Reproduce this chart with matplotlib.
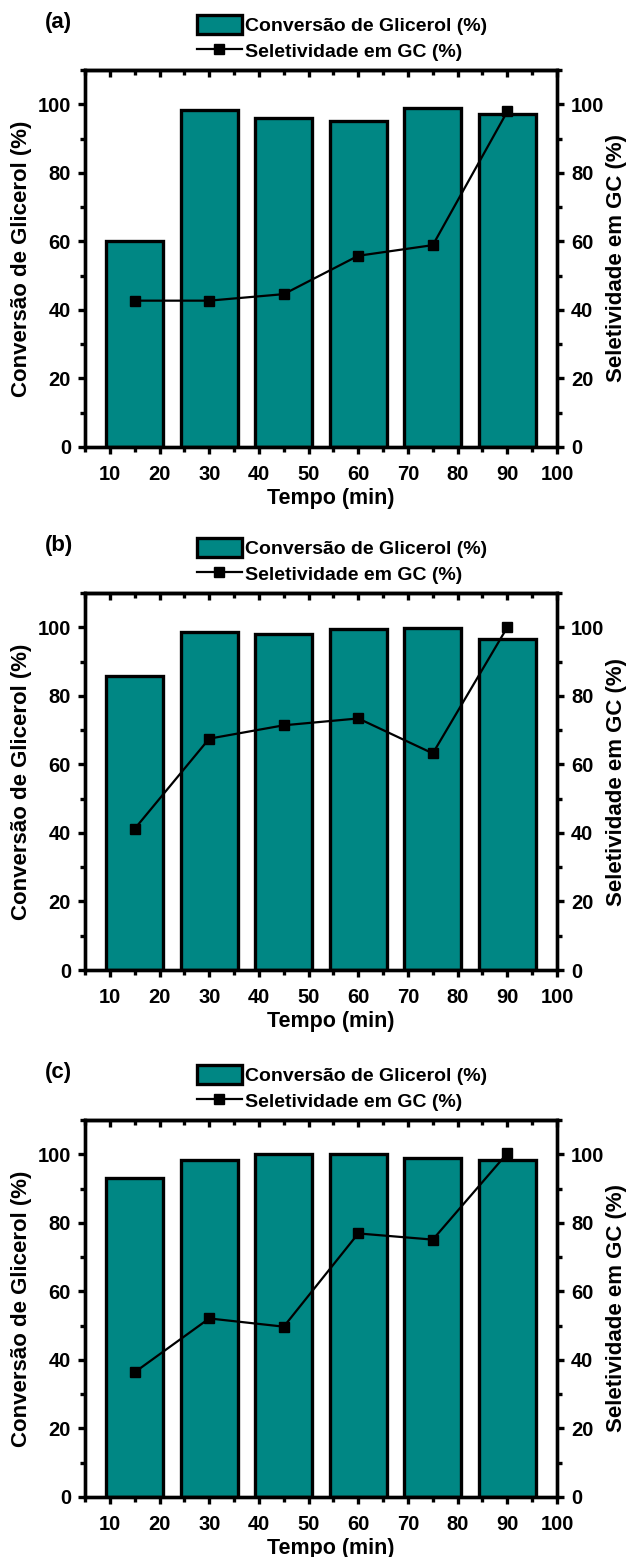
import numpy as np
import matplotlib
matplotlib.use('Agg')
import matplotlib.pyplot as plt
from matplotlib.ticker import MultipleLocator

# time points (min)
tempo = [15, 30, 45, 60, 75, 90]

# glycerol conversion (%) for each panel
conv_a = [60.0, 98.3, 96.1, 95.0, 99.0, 97.1]
conv_b = [85.7, 98.7, 98.0, 99.5, 99.7, 96.6]
conv_c = [93.2, 98.3, 100.2, 100.0, 98.8, 98.2]

# selectivity to GC (%) for each panel
sel_a = [42.7, 42.7, 44.6, 55.8, 58.9, 97.9]
sel_b = [41.2, 67.5, 71.4, 73.4, 63.2, 100.0]
sel_c = [36.4, 52.1, 49.7, 76.9, 75.1, 100.3]

panel_names = ['(a)', '(b)', '(c)']
x_ticks = [10, 20, 30, 40, 50, 60, 70, 80, 90, 100]
y_ticks = [0, 20, 40, 60, 80, 100]

TEAL = '#008784'
LW = 2.4

plt.rcParams['font.family'] = ['Liberation Sans', 'DejaVu Sans']
plt.rcParams['font.weight'] = 'bold'


def style_ticks(ax, axis, pad=5):
    ax.tick_params(axis=axis, which='major', length=5, width=LW, direction='out',
                   labelsize=14.5, pad=pad)
    ax.tick_params(axis=axis, which='minor', length=3.5, width=LW, direction='out')


def plot_panel(fig, rect, conv, sel, name):
    ax = fig.add_axes(rect)
    bars = ax.bar(tempo, conv, width=11.5, color=TEAL, edgecolor='black', linewidth=LW)
    ax.set_xlim(5, 100)
    ax.set_ylim(0, 110)
    ax.set_xticks(x_ticks)
    ax.set_yticks(y_ticks)
    ax.xaxis.set_minor_locator(MultipleLocator(5))
    ax.yaxis.set_minor_locator(MultipleLocator(10))
    style_ticks(ax, 'x', pad=8)
    style_ticks(ax, 'y')
    for s in ax.spines.values():
        s.set_linewidth(LW)

    # top axis with inward ticks and no labels
    top = ax.secondary_xaxis('top')
    top.set_xticks(x_ticks)
    top.xaxis.set_minor_locator(MultipleLocator(5))
    top.tick_params(which='major', direction='in', length=5, width=LW, labeltop=False)
    top.tick_params(which='minor', direction='in', length=3.5, width=LW)
    top.spines['top'].set_linewidth(LW)

    ax2 = ax.twinx()
    line, = ax2.plot(tempo, sel, color='black', lw=1.6, marker='s', markersize=7.5)
    ax2.set_ylim(0, 110)
    ax2.set_yticks(y_ticks)
    ax2.yaxis.set_minor_locator(MultipleLocator(10))
    style_ticks(ax2, 'y')
    for s in ax2.spines.values():
        s.set_linewidth(LW)

    ax.set_xlabel('Tempo (min)', fontsize=15.5, fontweight='bold')
    ax.xaxis.set_label_coords(0.52, -0.108)
    ax.set_ylabel('Conversão de Glicerol (%)', fontsize=16, fontweight='bold')
    ax.yaxis.set_label_coords(-0.112, 0.5)
    ax2.set_ylabel('Seletividade em GC (%)', fontsize=16, fontweight='bold')
    ax2.yaxis.set_label_coords(1.104, 0.5)

    ax.text(-0.085, 1.127, name, transform=ax.transAxes, fontsize=16,
            fontweight='bold', va='center', ha='left')

    ax2.legend([bars, line], ['Conversão de Glicerol (%)', 'Seletividade em GC (%)'],
               loc='lower left', bbox_to_anchor=(0.237, 1.025), frameon=False,
               borderpad=0, borderaxespad=0, handlelength=2.3,
               handleheight=1.1, handletextpad=0.2, labelspacing=0.3,
               prop={'weight': 'bold', 'size': 14})
    return ax


def main():
    fig = plt.figure(figsize=(6.31, 15.57), dpi=100)
    left = 85 / 631
    width = 472 / 631
    height = 377 / 1557
    bottoms = [1 - 447 / 1557, 1 - 970 / 1557, 1 - 1497 / 1557]
    convs = [conv_a, conv_b, conv_c]
    sels = [sel_a, sel_b, sel_c]
    for b, c, s, n in zip(bottoms, convs, sels, panel_names):
        plot_panel(fig, [left, b, width, height], c, s, n)
    fig.savefig('out.png', dpi=100)


if __name__ == '__main__':
    main()
